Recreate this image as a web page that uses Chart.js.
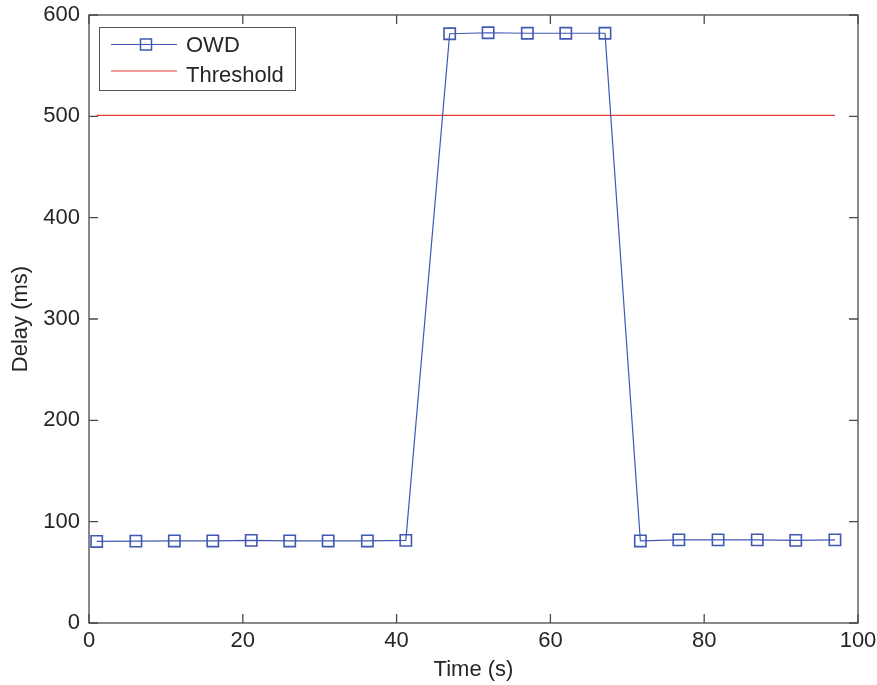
<!DOCTYPE html>
<html>
<head>
<meta charset="utf-8">
<script src="https://cdn.jsdelivr.net/npm/chart.js@4"></script>
<style>
  body { margin: 0; background: #fff; }
  #wrap { width: 877px; height: 685px; }
</style>
</head>
<body>
<div id="wrap"><canvas id="myChart" width="877" height="685"></canvas></div>
<script>
const timeS = [1, 6.1, 11.1, 16.1, 21.1, 26.1, 31.1, 36.2, 41.2, 46.9, 51.9, 57, 62, 67.1, 71.7, 76.7, 81.8, 86.9, 91.9, 97];
const owdMs = [80.5, 80.8, 81, 81, 81.5, 81, 81, 81, 81.5, 581.5, 582.5, 582, 582, 582, 81, 82, 82, 82, 81.5, 82];
const thresholdTime = [1, 97];
const thresholdMs = [501, 501];
const xTicks = [0, 20, 40, 60, 80, 100];
const yTicks = [0, 100, 200, 300, 400, 500, 600];

const font = "'Liberation Sans', Arial, sans-serif";
const textColor = '#262626';
const axisColor = '#4a4a4a';

// ticks pointing inwards on all four sides + box around the plot
const frameTicks = {
    id: 'frameTicks',
    afterDraw(chart) {
        const { ctx, chartArea: a, scales } = chart;
        const len = 9;
        ctx.save();
        ctx.strokeStyle = axisColor;
        ctx.lineWidth = 1.3;
        ctx.strokeRect(a.left, a.top, a.right - a.left, a.bottom - a.top);
        ctx.beginPath();
        xTicks.forEach(v => {
            const px = scales.x.getPixelForValue(v);
            ctx.moveTo(px, a.bottom); ctx.lineTo(px, a.bottom - len);
            ctx.moveTo(px, a.top); ctx.lineTo(px, a.top + len);
        });
        yTicks.forEach(v => {
            const py = scales.y.getPixelForValue(v);
            ctx.moveTo(a.left, py); ctx.lineTo(a.left + len, py);
            ctx.moveTo(a.right, py); ctx.lineTo(a.right - len, py);
        });
        ctx.stroke();
        ctx.restore();
    }
};

// legend drawn inside the plot, top left
const boxLegend = {
    id: 'boxLegend',
    afterDraw(chart) {
        const { ctx, chartArea: a } = chart;
        const x0 = a.left + 10, y0 = a.top + 12, w = 196, h = 63;
        const lineRows = [17.5, 44];
        const textRows = [17.5, 48];
        ctx.save();
        ctx.fillStyle = '#fff';
        ctx.fillRect(x0, y0, w, h);
        ctx.strokeStyle = '#555';
        ctx.lineWidth = 1;
        ctx.strokeRect(x0 + 0.5, y0 + 0.5, w, h);
        ctx.font = '22px ' + font;
        ctx.textBaseline = 'middle';
        chart.data.datasets.forEach((ds, i) => {
            const cy = y0 + lineRows[i];
            ctx.strokeStyle = ds.borderColor;
            ctx.lineWidth = 1.2;
            ctx.beginPath();
            ctx.moveTo(x0 + 12, cy); ctx.lineTo(x0 + 78, cy);
            ctx.stroke();
            if (ds.pointRadius > 0) {
                ctx.lineWidth = 1.5;
                ctx.strokeRect(x0 + 41.5, cy - 5.5, 11, 11);
            }
            ctx.fillStyle = textColor;
            ctx.fillText(ds.label, x0 + 87, y0 + textRows[i] + 1);
        });
        ctx.restore();
    }
};

document.addEventListener('DOMContentLoaded', function () {
    const ctx = document.getElementById('myChart');
    new Chart(ctx, {
        type: 'line',
        data: {
            datasets: [{
                label: 'OWD',
                data: timeS.map((t, i) => ({ x: t, y: owdMs[i] })),
                borderColor: '#3f58b2',
                borderWidth: 1.2,
                pointStyle: 'rect',
                pointRadius: 8,
                pointBorderWidth: 1.6,
                pointBackgroundColor: 'rgba(0,0,0,0)',
                pointBorderColor: '#3f58b2',
                tension: 0
            }, {
                label: 'Threshold',
                data: thresholdTime.map((t, i) => ({ x: t, y: thresholdMs[i] })),
                borderColor: '#e23a3a',
                borderWidth: 1.2,
                pointRadius: 0
            }]
        },
        plugins: [frameTicks, boxLegend],
        options: {
            responsive: false,
            animation: false,
            layout: { autoPadding: false, padding: { left: 0, top: 15, right: 19, bottom: 0 } },
            plugins: {
                legend: { display: false },
                tooltip: { enabled: false }
            },
            scales: {
                x: {
                    type: 'linear',
                    min: 0, max: 100,
                    afterBuildTicks: s => { s.ticks = xTicks.map(v => ({ value: v })); },
                    afterFit: s => { s.height = 62; s.paddingLeft = 0; s.paddingRight = 0; },
                    grid: { display: false, drawTicks: false },
                    border: { display: false },
                    ticks: { color: textColor, font: { family: font, size: 22 }, padding: 5, maxRotation: 0 },
                    title: { display: true, text: 'Time (s)', color: textColor, font: { family: font, size: 22 }, padding: { top: 0, bottom: 2 } }
                },
                y: {
                    min: 0, max: 600,
                    afterBuildTicks: s => { s.ticks = yTicks.map(v => ({ value: v })); },
                    afterFit: s => { s.width = 89; s.paddingTop = 0; s.paddingBottom = 0; },
                    grid: { display: false, drawTicks: false },
                    border: { display: false },
                    ticks: { color: textColor, font: { family: font, size: 22 }, padding: 9 },
                    title: { display: true, text: 'Delay (ms)', color: textColor, font: { family: font, size: 22 }, padding: { top: 8, bottom: 0 } }
                }
            }
        }
    });
});
</script>
</body>
</html>
